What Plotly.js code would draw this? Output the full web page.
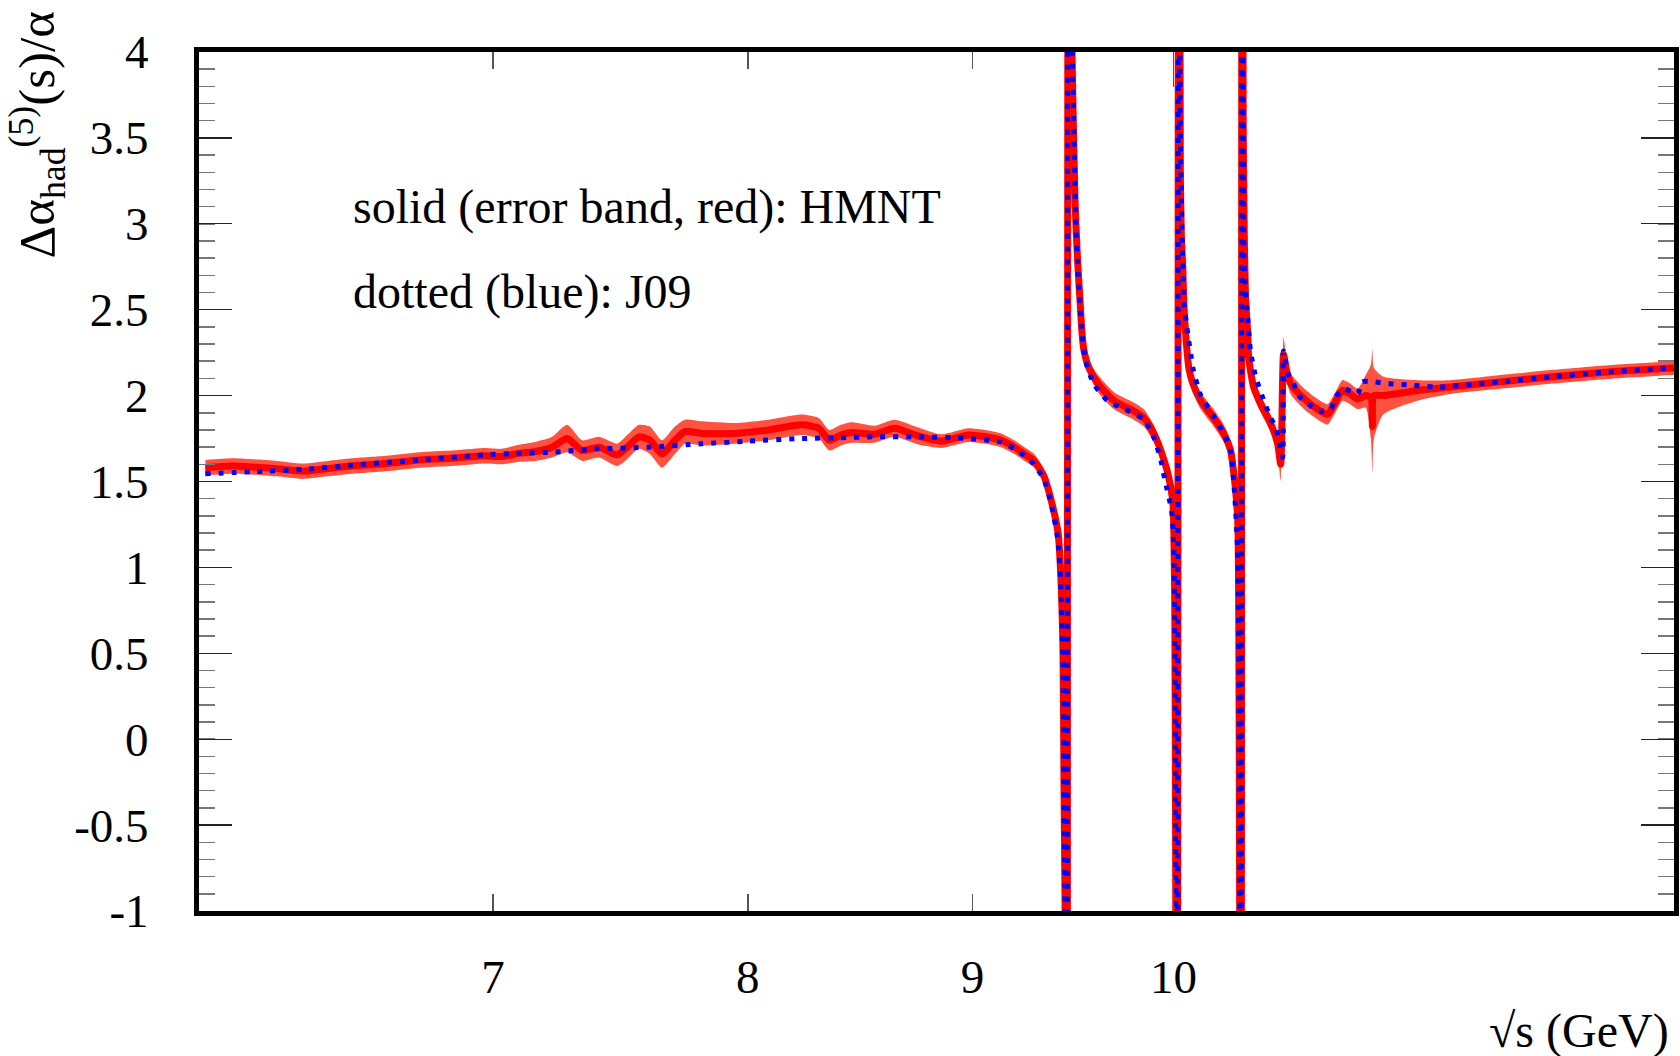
<!DOCTYPE html>
<html>
<head>
<meta charset="utf-8">
<script src="https://cdn.plot.ly/plotly-3.0.1.min.js"></script>
<style>
html,body{margin:0;padding:0;background:#fff;}
#chart{width:1680px;height:1056px;}
</style>
</head>
<body>
<div id="chart"></div>
<script>
// ---- HMNT (solid red line + error band) ----
var xHMNT = [6.02,6.10,6.17,6.25,6.335,6.42,6.50,6.62,6.735,6.85,6.97,7.03,7.10,7.157,7.22,7.277,7.335,7.40,7.47,7.51,7.556,7.60,7.648,7.70,7.741,7.81,7.946,8.088,8.229,8.303,8.35,8.40,8.447,8.549,8.639,8.748,8.854,8.98,9.06,9.136,9.20,9.26,9.296,9.344,9.379,9.413,9.428,9.437,9.442,9.451,9.458,9.463,9.482,9.490,9.497,9.505,9.512,9.522,9.532,9.542,9.567,9.612,9.693,9.794,9.846,9.897,9.934,9.970,9.996,10.002,10.007,10.012,10.020,10.027,10.036,10.041,10.049,10.054,10.064,10.081,10.102,10.144,10.213,10.267,10.304,10.321,10.342,10.348,10.353,10.360,10.366,10.372,10.378,10.386,10.397,10.402,10.429,10.468,10.522,10.561,10.578,10.594,10.61,10.633,10.69,10.745,10.80,10.841,10.88,10.926,10.97,11.013,11.06,11.09,11.099,11.108,11.163,11.364,11.561,11.87,12.2,12.6,13.0];
var yHMNT = [1.58,1.59,1.585,1.575,1.56,1.575,1.59,1.605,1.625,1.635,1.65,1.645,1.665,1.675,1.70,1.75,1.68,1.70,1.655,1.70,1.76,1.74,1.66,1.74,1.79,1.78,1.78,1.80,1.83,1.81,1.74,1.77,1.785,1.775,1.81,1.765,1.735,1.77,1.76,1.74,1.70,1.65,1.62,1.53,1.39,1.20,0.91,0.53,-0.24,-1.5,-6,8,4.0,3.5,3.13,2.90,2.74,2.55,2.36,2.26,2.16,2.07,1.97,1.91,1.87,1.78,1.68,1.55,1.39,1.20,0.72,-1.0,-6,8,3.3,2.94,2.74,2.55,2.36,2.16,2.07,1.97,1.87,1.78,1.68,1.55,1.29,0.72,-1.0,-6,8,3.6,2.94,2.55,2.36,2.22,2.05,1.95,1.84,1.72,1.60,2.24,2.15,2.07,2.00,1.95,1.91,1.89,1.95,2.03,2.01,1.98,2.00,1.99,1.82,2.00,2.00,2.03,2.05,2.08,2.11,2.14,2.16];
var loHMNT = [1.535,1.545,1.54,1.53,1.515,1.53,1.545,1.56,1.58,1.59,1.605,1.60,1.615,1.62,1.64,1.67,1.62,1.64,1.59,1.63,1.69,1.66,1.58,1.66,1.72,1.71,1.72,1.74,1.77,1.75,1.68,1.71,1.725,1.725,1.76,1.715,1.695,1.73,1.72,1.70,1.66,1.61,1.58,1.49,1.35,1.16,0.87,0.49,-0.28,-1.54,-6,8,3.96,3.46,3.09,2.86,2.70,2.51,2.32,2.22,2.12,2.02,1.92,1.86,1.82,1.73,1.63,1.51,1.35,1.16,0.68,-1.04,-6,8,3.26,2.90,2.70,2.51,2.32,2.11,2.02,1.92,1.82,1.73,1.63,1.51,1.25,0.68,-1.04,-6,8,3.56,2.90,2.51,2.32,2.18,2.00,1.90,1.79,1.66,1.50,2.14,2.09,2.01,1.94,1.89,1.85,1.83,1.89,1.97,1.95,1.92,1.93,1.75,1.55,1.75,1.89,1.97,2.01,2.04,2.07,2.10,2.12];
var hiHMNT = [1.625,1.635,1.63,1.62,1.605,1.62,1.635,1.65,1.67,1.68,1.695,1.69,1.715,1.73,1.76,1.83,1.74,1.76,1.72,1.77,1.83,1.82,1.74,1.82,1.86,1.85,1.84,1.86,1.89,1.87,1.80,1.83,1.845,1.825,1.86,1.815,1.775,1.81,1.80,1.78,1.74,1.69,1.66,1.57,1.43,1.24,0.95,0.57,-0.20,-1.46,-6,8,4.04,3.54,3.17,2.94,2.78,2.59,2.40,2.30,2.20,2.12,2.02,1.96,1.92,1.83,1.73,1.59,1.43,1.24,0.76,-0.96,-6,8,3.34,2.98,2.78,2.59,2.40,2.21,2.12,2.02,1.92,1.83,1.73,1.59,1.33,0.76,-0.96,-6,8,3.64,2.98,2.59,2.40,2.26,2.10,2.00,1.89,1.78,1.70,2.34,2.21,2.13,2.06,2.01,1.97,1.95,2.01,2.09,2.07,2.04,2.12,2.18,2.27,2.16,2.11,2.09,2.09,2.12,2.15,2.18,2.20];

// ---- J09 (dotted blue line) ----
var xJ09 = [6.02,6.17,6.335,6.50,6.735,6.97,7.10,7.22,7.30,7.40,7.60,7.81,8.00,8.229,8.40,8.549,8.75,8.98,9.136,9.20,9.26,9.296,9.344,9.379,9.413,9.428,9.437,9.442,9.451,9.458,9.463,9.484,9.492,9.500,9.512,9.532,9.55,9.59,9.66,9.75,9.846,9.90,9.935,9.955,9.99,10.002,10.008,10.012,10.020,10.027,10.036,10.049,10.054,10.075,10.091,10.102,10.144,10.213,10.267,10.304,10.321,10.342,10.348,10.353,10.360,10.366,10.372,10.378,10.397,10.412,10.44,10.485,10.522,10.55,10.567,10.589,10.594,10.617,10.65,10.678,10.734,10.790,10.858,10.886,10.932,11.013,11.041,11.105,11.187,11.339,11.483,11.87,12.2,12.6,13.0];
var yJ09 = [1.545,1.557,1.57,1.595,1.625,1.655,1.665,1.67,1.68,1.69,1.70,1.72,1.735,1.75,1.755,1.76,1.76,1.75,1.73,1.69,1.64,1.60,1.51,1.37,1.15,0.85,0.45,-0.3,-1.5,-6,8,4.0,3.5,3.05,2.72,2.36,2.20,2.07,1.97,1.92,1.86,1.75,1.62,1.51,1.33,1.10,0.5,-1.0,-6,8,3.5,2.74,2.55,2.36,2.24,2.16,2.00,1.88,1.78,1.68,1.50,1.10,0.5,-1.0,-6,8,3.6,2.74,2.45,2.26,2.11,1.97,1.87,1.82,1.74,1.64,2.26,2.13,2.07,2.00,1.95,1.91,1.92,1.99,2.04,2.01,2.08,2.08,2.07,2.06,2.05,2.08,2.11,2.14,2.16];

// ---- axis ticks / texts ----
var xTickVals = [7, 8, 9, 10];
var xTickText = ['7', '8', '9', '10'];
var xDecadeTick = [10];
var yTickVals = [-1, -0.5, 0, 0.5, 1, 1.5, 2, 2.5, 3, 3.5, 4];
var yTickText = ['-1', '-0.5', '0', '0.5', '1', '1.5', '2', '2.5', '3', '3.5', '4'];
var xRange = [6, 13];
var yRange = [-1, 4];
var labelHMNT = 'solid (error band, red): HMNT';
var labelJ09 = 'dotted (blue): J09';
var xTitle = '\u221As (GeV)';
var yTitle = '\u0394\u03b1<sub>had</sub><sup>(5)</sup>(s)/\u03b1';

var FONT = 'Liberation Serif, Times New Roman, serif';
var LS = {shape: 'spline', smoothing: 0.6};

var traces = [
  {x: xHMNT, y: loHMNT, type: 'scatter', mode: 'lines', line: {width: 0, color: 'rgba(0,0,0,0)', shape: LS.shape, smoothing: LS.smoothing}, hoverinfo: 'skip', showlegend: false},
  {x: xHMNT, y: hiHMNT, type: 'scatter', mode: 'lines', line: {width: 0, color: 'rgba(0,0,0,0)', shape: LS.shape, smoothing: LS.smoothing}, fill: 'tonexty', fillcolor: '#ff5241', hoverinfo: 'skip', showlegend: false},
  {x: xHMNT, y: yHMNT, type: 'scatter', mode: 'lines', line: {width: 7, color: '#ff0000', shape: LS.shape, smoothing: LS.smoothing}, showlegend: false, name: 'HMNT'},
  {x: xJ09, y: yJ09, type: 'scatter', mode: 'lines', line: {width: 5, color: '#0000ff', dash: '5px,8px', shape: LS.shape, smoothing: LS.smoothing}, showlegend: false, name: 'J09'},
  {x: [], y: [], xaxis: 'x2', type: 'scatter', mode: 'lines', showlegend: false, hoverinfo: 'skip'}
];

var lx = [Math.log10(xRange[0]), Math.log10(xRange[1])];

var layout = {
  width: 1680, height: 1056,
  paper_bgcolor: '#ffffff', plot_bgcolor: '#ffffff',
  margin: {l: 199, r: 6, t: 52, b: 145},
  showlegend: false,
  font: {family: FONT, size: 47, color: '#000'},
  xaxis: {
    type: 'log', range: lx, tickmode: 'array', tickvals: xTickVals, ticktext: xTickText,
    ticks: 'inside', ticklen: 17, tickwidth: 1.5, tickcolor: '#555',
    showline: true, linewidth: 5, linecolor: '#000', mirror: 'ticks',
    showgrid: false, zeroline: false,
    tickfont: {family: FONT, size: 47, color: '#000'},
    ticklabelstandoff: 21
  },
  xaxis2: {
    type: 'log', range: lx, overlaying: 'x', anchor: 'y', side: 'bottom',
    tickmode: 'array', tickvals: xDecadeTick, ticks: 'inside', ticklen: 35, tickwidth: 1.5, tickcolor: '#555',
    mirror: 'ticks', showline: false, showgrid: false, zeroline: false, showticklabels: false
  },
  yaxis: {
    range: yRange, tickmode: 'array', tickvals: yTickVals, ticktext: yTickText,
    ticks: 'inside', ticklen: 33, tickwidth: 1.2, tickcolor: '#222',
    minor: {tickmode: 'linear', tick0: -1, dtick: 0.1, ticks: 'inside', ticklen: 16, tickwidth: 1.5, tickcolor: '#777', showgrid: false},
    showline: true, linewidth: 5, linecolor: '#000', mirror: 'ticks',
    showgrid: false, zeroline: false,
    tickfont: {family: FONT, size: 47, color: '#000'},
    ticklabelstandoff: 36
  },
  annotations: [
    {text: labelHMNT, xref: 'paper', yref: 'paper', x: 0.1031, y: 0.8196, xanchor: 'left', yanchor: 'middle', showarrow: false, font: {family: FONT, size: 48, color: '#000'}},
    {text: labelJ09, xref: 'paper', yref: 'paper', x: 0.1031, y: 0.7206, xanchor: 'left', yanchor: 'middle', showarrow: false, font: {family: FONT, size: 48, color: '#000'}},
    {text: xTitle, xref: 'paper', yref: 'paper', x: 0.998, y: -0.1397, xanchor: 'right', yanchor: 'middle', showarrow: false, font: {family: FONT, size: 48, color: '#000'}},
    {text: yTitle, xref: 'paper', yref: 'paper', x: -0.1098, y: 1.0489, xanchor: 'center', yanchor: 'top', textangle: -90, showarrow: false, font: {family: FONT, size: 51, color: '#000'}}
  ]
};

Plotly.newPlot('chart', traces, layout, {displayModeBar: false, staticPlot: true});
</script>
</body>
</html>
